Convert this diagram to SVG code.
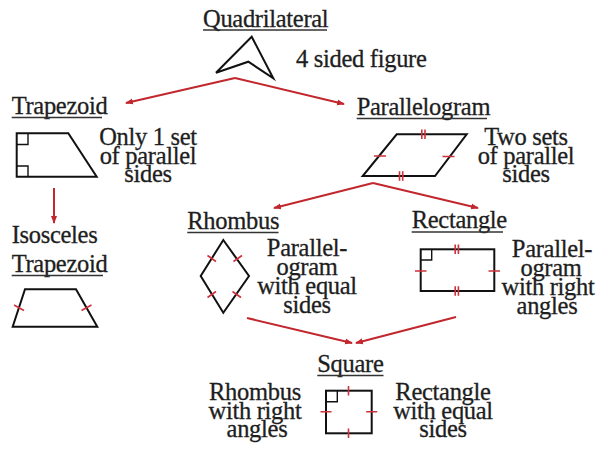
<svg xmlns="http://www.w3.org/2000/svg" width="596" height="449" viewBox="0 0 596 449">
<defs>
<marker id="ah" markerWidth="8" markerHeight="8" refX="7" refY="4" orient="auto" markerUnits="userSpaceOnUse"><path d="M0,1 L8,4 L0,7 z" fill="#c1272d"/></marker>
</defs>
<style>
text{font-family:"Liberation Serif","Times New Roman",serif;font-size:24.5px;letter-spacing:-0.3px;fill:#1e1e1e;stroke:#1e1e1e;stroke-width:0.3}
.c{text-anchor:middle}
.ul{stroke:#333;stroke-width:1.4}
.shape{fill:none;stroke:#111;stroke-width:2}
.rb{fill:none;stroke:#111;stroke-width:1.4}
.tick{stroke:#d0313a;stroke-width:1.6;fill:none}
.conn{fill:none;stroke:#c1272d;stroke-width:2;marker-end:url(#ah)}
</style>
<rect width="596" height="449" fill="#fff"/>

<g id="connectors">
<path class="conn" d="M235,78 L126,103"/>
<path class="conn" d="M235,78 L344,104"/>
<path class="conn" d="M54,188 L54,223"/>
<path class="conn" d="M373,183 L274,208"/>
<path class="conn" d="M373,183 L478,208"/>
<path class="conn" d="M247,318 L352,343"/>
<path class="conn" d="M456,317 L356,343"/>
</g>

<g id="quadrilateral">
<text x="203" y="26.5">Quadrilateral</text>
<line class="ul" x1="203" y1="30" x2="327" y2="30"/>
<polygon class="shape" points="251.7,36.7 216,72.7 248.3,61.7 273.3,78.3"/>
<text x="296" y="67">4 sided figure</text>
</g>

<g id="trapezoid">
<text x="11.7" y="114">Trapezoid</text>
<line class="ul" x1="11.7" y1="117.5" x2="102" y2="117.5"/>
<polygon class="shape" points="16.7,133.3 68.3,133.3 96.7,176.7 16.7,176.7"/>
<path class="rb" d="M16.7,144.5 H28 V133.3 M16.7,166 H28 V176.7"/>
<text class="c" x="148" y="145">Only 1 set</text>
<text class="c" x="148" y="164">of parallel</text>
<text class="c" x="148" y="182">sides</text>
</g>

<g id="parallelogram">
<text x="356.7" y="115">Parallelogram</text>
<line class="ul" x1="356.7" y1="118.5" x2="487" y2="118.5"/>
<polygon class="shape" points="396.7,134.3 466.7,134.3 435,176 362.7,176"/>
<path class="tick" d="M421.8,129.5 V139 M425,129.5 V139 M399.5,171.2 V180.7 M402.7,171.2 V180.7 M374,156 H386 M442.5,156.5 H454.5"/>
<text class="c" x="526" y="145">Two sets</text>
<text class="c" x="526" y="164">of parallel</text>
<text class="c" x="526" y="182">sides</text>
</g>

<g id="isosceles-trapezoid">
<text x="11.7" y="243.3">Isosceles</text>
<text x="11.7" y="271.7">Trapezoid</text>
<line class="ul" x1="11.7" y1="275.5" x2="103" y2="275.5"/>
<polygon class="shape" points="25,289.3 76,289.3 97.3,326.7 12.7,326.7"/>
<path class="tick" d="M14,305 L24,310.5 M81.5,310.5 L91.5,305"/>
</g>

<g id="rhombus">
<text x="187.3" y="229">Rhombus</text>
<line class="ul" x1="187.3" y1="232.5" x2="278.5" y2="232.5"/>
<polygon class="shape" points="223.3,240 249,276 223.3,312.7 200.7,276"/>
<path class="tick" d="M207.5,255.5 L216,261.5 M233.5,261.5 L242,255.5 M207.5,297.5 L216,291.5 M232.5,291.5 L241,297.5"/>
<text class="c" x="307" y="256">Parallel-</text>
<text class="c" x="307" y="275">ogram</text>
<text class="c" x="307" y="294">with equal</text>
<text class="c" x="307" y="313">sides</text>
</g>

<g id="rectangle">
<text x="411.7" y="228.3">Rectangle</text>
<line class="ul" x1="411.7" y1="232" x2="503" y2="232"/>
<rect class="shape" x="420.7" y="249.3" width="73.6" height="41.7"/>
<path class="rb" d="M420.7,260 H431.7 V249.3"/>
<path class="tick" d="M455.2,244.5 V254 M458.4,244.5 V254 M455.2,286.2 V295.7 M458.4,286.2 V295.7 M415,271 H426.5 M488.5,271 H500"/>
<text class="c" x="552" y="257">Parallel-</text>
<text class="c" x="551" y="276">ogram</text>
<text class="c" x="548" y="295">with right</text>
<text class="c" x="547" y="314">angles</text>
</g>

<g id="square">
<text x="317.3" y="371.7">Square</text>
<line class="ul" x1="317.3" y1="375.5" x2="383.5" y2="375.5"/>
<rect class="shape" x="326" y="390.7" width="45.7" height="42.6"/>
<path class="rb" d="M326,401.7 H337.3 V390.7"/>
<path class="tick" d="M348.5,386 V395.5 M348.5,428.5 V438 M320.5,411.7 H331.5 M366.2,411.7 H377.2"/>
<text class="c" x="255" y="400">Rhombus</text>
<text class="c" x="255" y="418.5">with right</text>
<text class="c" x="257" y="437">angles</text>
<text class="c" x="443" y="400">Rectangle</text>
<text class="c" x="443" y="418.5">with equal</text>
<text class="c" x="443" y="437">sides</text>
</g>
</svg>
